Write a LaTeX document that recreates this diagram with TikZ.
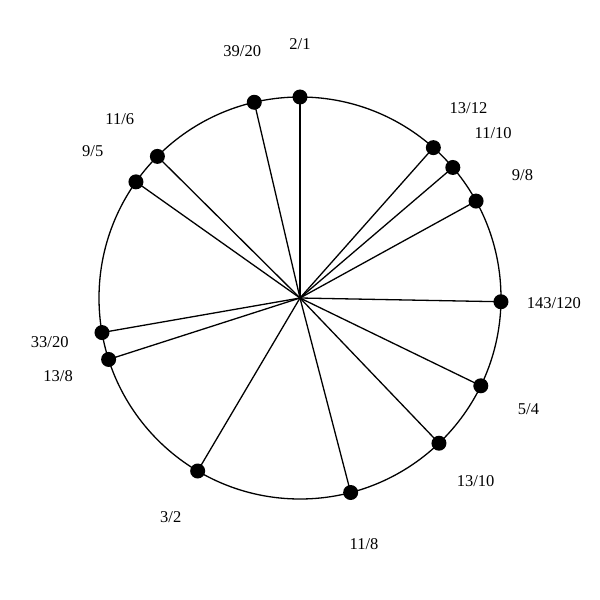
\documentclass[tikz,border=0pt]{standalone}
\usepackage{fontspec}
\setmainfont{Liberation Serif}
\begin{document}
\begin{tikzpicture}[x=1pt,y=1pt,
  dot/.style={circle,fill=black,inner sep=0pt,minimum size=15pt},
  lab/.style={font=\fontsize{16.5}{18}\selectfont,inner sep=0pt},
  spoke/.style={line width=1.3pt}]
\useasboundingbox (-300,-302) rectangle (300,298);
\coordinate (c) at (0,0);
\draw[line width=1.3pt] (c) circle (201);
\foreach \ang/\txt/\nm in {0/2\slash 1/a,41.57/13\slash 12/b,49.5/11\slash 10/d,61.17/9\slash 8/e,91.07/143\slash 120/f,115.9/5\slash 4/g,136.26/13\slash 10/h,165.4/11\slash 8/i,210.6/3\slash 2/j,252.2/13\slash 8/k,260.1/33\slash 20/l,305.3/9\slash 5/m,314.8/11\slash 6/n,346.85/39\slash 20/o}{
  \node[dot] (p\nm) at ({90-\ang}:201) {};
  \draw[spoke] (c) -- (p\nm.center);
  \node[lab] (t\nm) at ({90-\ang}:254) {\txt};
}
\end{tikzpicture}
\end{document}
